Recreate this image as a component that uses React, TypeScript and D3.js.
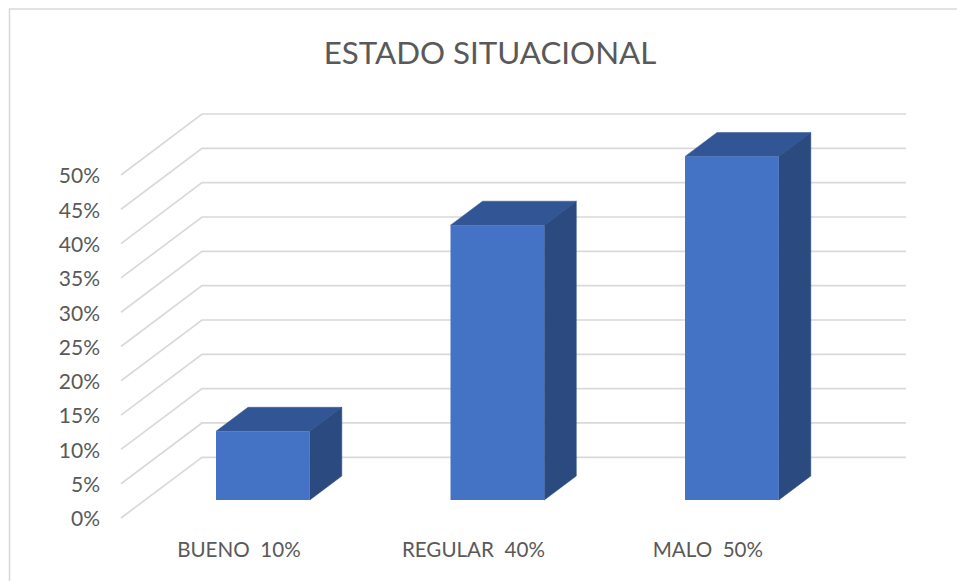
import React from "react";
import * as d3 from "d3";

const title = "ESTADO SITUACIONAL";
const categories = ["BUENO  10%", "REGULAR  40%", "MALO  50%"];
const values = [10, 40, 50];
const ticks = [0, 5, 10, 15, 20, 25, 30, 35, 40, 45, 50];

const FONT = "Lato, 'Open Sans', sans-serif";
const TEXT = "#595959";
const GRID = "#d9d9d9";

// scales: front wall, back wall, bars
const yFront = d3.scaleLinear().domain([0, 50]).range([518, 175]);
const yBack = d3.scaleLinear().domain([0, 50]).range([457.3, 114]);
const yBar = d3.scaleLinear().domain([0, 50]).range([500, 156.5]);
const xBand = d3.scaleBand<string>().domain(categories).range([145.65, 849.15]).paddingInner(0.6).paddingOuter(0.3);
const DX = 32;
const DY = -24;
const line = d3.line<[number, number]>();

export default function App() {
  const w = xBand.bandwidth();
  return (
    <svg width={957} height={581} style={{ position: "absolute", left: 0, top: 0, background: "#fff", fontFamily: FONT }}>
      <path d={line([[9.5, 581], [9.5, 9], [957, 9]]) ?? ""} fill="none" stroke={GRID} strokeWidth={1.6} />
      <text x={490} y={64} textAnchor="middle" fontSize={31.3} fill={TEXT}>{title}</text>
      {ticks.map((t) => (
        <g key={t}>
          <path
            d={line([[121, yFront(t)], [202, yBack(t)], [906, yBack(t)]]) ?? ""}
            fill="none"
            stroke={GRID}
            strokeWidth={1.7}
          />
          <text x={100} y={yFront(t) + 8.3} textAnchor="end" fontSize={21} fill={TEXT}>{`${t}%`}</text>
        </g>
      ))}
      {categories.map((c, i) => {
        const x0 = xBand(c) ?? 0;
        const x1 = x0 + w;
        const yt = yBar(values[i]);
        const yb = yBar(0);
        return (
          <g key={c}>
            <path d={line([[x0, yt], [x1, yt], [x1 + DX, yt + DY], [x0 + DX, yt + DY]]) + "Z"} fill="#325695" stroke="#325695" strokeWidth={0.5} />
            <path d={line([[x1, yt], [x1 + DX, yt + DY], [x1 + DX, yb + DY], [x1, yb]]) + "Z"} fill="#2a4a80" stroke="#2a4a80" strokeWidth={0.5} />
            <rect x={x0} y={yt} width={w} height={yb - yt} fill="#4472c4" />
            <text x={x0 + w / 2 - 24} y={557} textAnchor="middle" fontSize={20.6} fill={TEXT} style={{ whiteSpace: "pre" }}>{c}</text>
          </g>
        );
      })}
    </svg>
  );
}
